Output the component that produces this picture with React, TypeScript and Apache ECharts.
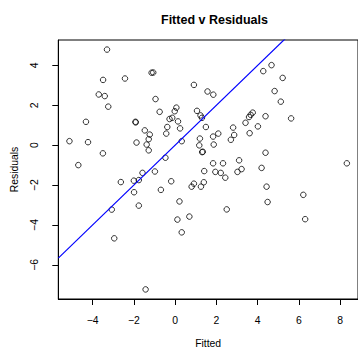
import React, { useEffect, useRef } from "react";
import * as echarts from "echarts";

const fittedValues = [
  -3.30, -1.14, -1.06, -3.49, -2.43, -3.70, -3.41, -0.95, -3.24, -4.32, -1.92, -1.91, -1.47, -1.23, -5.12, -4.22, -1.87, -1.28, -1.38, -1.28, -3.50, -4.69,
  -0.75, 0.91, 1.57, 1.85, 0.06, -0.02, -0.14, -0.27, 0.14, 1.06, 1.23, 1.30, -0.38, 0.24, 1.49, -0.43, 0.32, 1.20, 2.09, 1.84, 2.81, 2.86, 2.70, 1.17, 1.87, 1.31, 1.34, -0.47, 3.58, 3.66, 3.76, 3.41, 3.61, 1.84, 2.32, 3.10,
  4.27, 4.67, 5.21, 4.82, 5.12, 4.38, 5.62, 4.01, 4.38, 4.19, 8.32,
  -1.58, -0.98, -2.63, -2.00, -1.76, -1.99, -1.76, -3.07, -2.95, -1.43,
  -0.19, -0.69, 1.41, 1.95, 2.21, 2.43, 3.02, 3.22, 0.91, 0.80, 1.39, 1.25, 0.21, 2.50, 0.11, 0.69, 0.32,
  4.43, 6.21, 4.48, 6.30,
];

const residualValues = [
  4.79, 3.63, 3.64, 3.27, 3.34, 2.54, 2.46, 2.31, 1.93, 1.17, 1.17, 1.14, 0.74, 0.53, 0.20, 0.15, 0.13, 0.30, 0.03, -0.26, -0.41, -1.00,
  1.67, 3.02, 2.69, 2.53, 1.88, 1.70, 1.37, 1.31, 1.19, 1.72, 1.49, 1.37, 0.91, 0.84, 0.91, 0.58, 0.20, 0.33, 0.58, 0.43, 0.88, 0.51, 0.27, -0.01, 0.03, -0.35, -0.33, -0.63, 1.41, 1.52, 1.63, 1.12, 0.60, -0.91, -0.91, -0.76,
  3.71, 4.01, 3.37, 2.71, 2.18, 1.45, 1.34, 0.94, -0.38, -1.14, -0.91,
  -1.39, -1.32, -1.85, -1.78, -1.75, -2.36, -3.03, -3.23, -4.67, -7.23,
  -1.81, -2.24, -1.30, -1.34, -1.39, -1.63, -1.34, -1.20, -1.93, -2.08, -1.86, -2.08, -2.82, -3.22, -3.73, -3.58, -4.37,
  -2.08, -2.49, -2.85, -3.71,
];

const xTickValues = [-4, -2, 0, 2, 4, 6, 8];
const yTickValues = [-6, -4, -2, 0, 2, 4];

const ablineIntercept = 0;
const ablineSlope = 1;

const X_MIN = -5.66;
const X_MAX = 8.86;
const Y_MIN = -7.71;
const Y_MAX = 5.27;

const FONT = "Liberation Sans, Arial, Helvetica, sans-serif";

const fmt = (v: number) => (v < 0 ? "\u2212" + Math.abs(v) : String(v));

export default function App() {
  const ref = useRef<HTMLDivElement>(null);

  useEffect(() => {
    if (!ref.current) return;
    const chart = echarts.init(ref.current, undefined, { renderer: "svg" });
    const points = fittedValues.map((x, i) => [x, residualValues[i]]);
    const lineData = [X_MIN, X_MAX].map((x) => [x, ablineIntercept + ablineSlope * x]);

    chart.setOption({
      animation: false,
      backgroundColor: "#ffffff",
      title: {
        text: "Fitted v Residuals",
        left: 209.5,
        top: 8,
        textAlign: "center",
        textStyle: { fontFamily: FONT, fontWeight: "bold", fontSize: 12.5, color: "#000" },
      },
      grid: {
        left: 58.3,
        top: 40,
        width: 302.5,
        height: 262.7,
        show: true,
        borderColor: "#000",
        borderWidth: 1,
        backgroundColor: "transparent",
      },
      xAxis: {
        type: "value",
        min: X_MIN,
        max: X_MAX,
        splitLine: { show: false },
        axisLine: { show: true, onZero: false, lineStyle: { color: "#000", width: 1 } },
        axisTick: { show: true, length: 6, customValues: xTickValues, lineStyle: { color: "#000" } },
        axisLabel: {
          customValues: xTickValues,
          margin: 16,
          fontSize: 10.4,
          fontFamily: FONT,
          color: "#000",
          formatter: (v: number) => fmt(v),
        },
        name: "Fitted",
        nameLocation: "middle",
        nameGap: 39,
        nameTextStyle: { fontFamily: FONT, fontSize: 10.4, color: "#000" },
      },
      yAxis: {
        type: "value",
        min: Y_MIN,
        max: Y_MAX,
        splitLine: { show: false },
        axisLine: { show: true, onZero: false, lineStyle: { color: "#000", width: 1 } },
        axisTick: { show: true, length: 6, customValues: yTickValues, lineStyle: { color: "#000" } },
        axisLabel: {
          customValues: yTickValues,
          rotate: 90,
          margin: 19,
          fontSize: 10.4,
          fontFamily: FONT,
          color: "#000",
          formatter: (v: number) => fmt(v),
        },
        name: "Residuals",
        nameLocation: "middle",
        nameGap: 39,
        nameTextStyle: { fontFamily: FONT, fontSize: 10.4, color: "#000" },
      },
      series: [
        {
          type: "scatter",
          data: points,
          symbol: "circle",
          symbolSize: 5.5,
          itemStyle: { color: "rgba(255,255,255,0)", borderColor: "#000", borderWidth: 1 },
          emphasis: { disabled: true },
          silent: true,
        },
        {
          type: "line",
          data: lineData,
          showSymbol: false,
          clip: true,
          lineStyle: { color: "#0000ff", width: 1.2 },
          silent: true,
        },
      ],
    });

    return () => chart.dispose();
  }, []);

  return (
    <div
      ref={ref}
      style={{ position: "fixed", left: 0, top: 0, width: 358, height: 353 }}
    />
  );
}
